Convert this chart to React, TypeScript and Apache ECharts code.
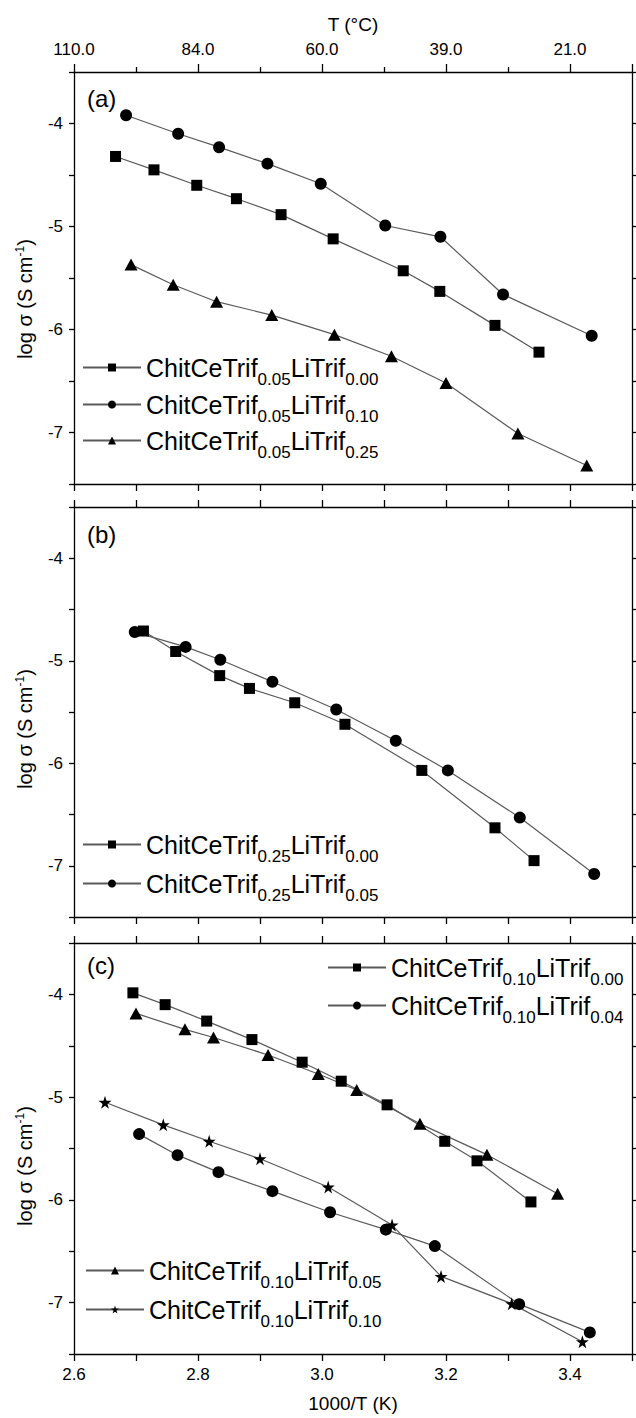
import { useEffect, useRef } from "react";
import * as echarts from "echarts";

// ---- tick labels ----
const T_TICK_LABELS = ["110.0", "84.0", "60.0", "39.0", "21.0"];
const X_TICK_LABELS = ["2.6", "2.8", "3.0", "3.2", "3.4"];
const Y_TICK_LABELS = ["-7", "-6", "-5", "-4"];

// ---- panel (a): ChitCeTrif0.05 with LiTrif ----
const A_NAMES = ["ChitCeTrif0.05LiTrif0.00", "ChitCeTrif0.05LiTrif0.10", "ChitCeTrif0.05LiTrif0.25"];
const A_SQ_X = [2.667, 2.729, 2.798, 2.862, 2.934, 3.018, 3.131, 3.19, 3.279, 3.35];
const A_SQ_Y = [-4.32, -4.45, -4.6, -4.73, -4.885, -5.12, -5.43, -5.63, -5.96, -6.22];
const A_CI_X = [2.684, 2.768, 2.834, 2.912, 2.998, 3.102, 3.191, 3.292, 3.435];
const A_CI_Y = [-3.92, -4.1, -4.23, -4.39, -4.585, -4.99, -5.1, -5.66, -6.06];
const A_TR_X = [2.692, 2.76, 2.83, 2.919, 3.02, 3.112, 3.2, 3.316, 3.427];
const A_TR_Y = [-5.37, -5.565, -5.73, -5.86, -6.05, -6.26, -6.52, -7.01, -7.32];

// ---- panel (b): ChitCeTrif0.25 with LiTrif ----
const B_NAMES = ["ChitCeTrif0.25LiTrif0.00", "ChitCeTrif0.25LiTrif0.05"];
const B_SQ_X = [2.712, 2.764, 2.835, 2.883, 2.956, 3.037, 3.161, 3.279, 3.342];
const B_SQ_Y = [-4.71, -4.91, -5.145, -5.27, -5.41, -5.62, -6.07, -6.63, -6.95];
const B_CI_X = [2.698, 2.78, 2.836, 2.92, 3.023, 3.119, 3.203, 3.319, 3.439];
const B_CI_Y = [-4.72, -4.865, -4.99, -5.205, -5.475, -5.78, -6.07, -6.53, -7.08];

// ---- panel (c): ChitCeTrif0.10 with LiTrif ----
const C_NAMES = [
  "ChitCeTrif0.10LiTrif0.00",
  "ChitCeTrif0.10LiTrif0.04",
  "ChitCeTrif0.10LiTrif0.05",
  "ChitCeTrif0.10LiTrif0.10",
];
const C_SQ_X = [2.695, 2.747, 2.814, 2.887, 2.968, 3.031, 3.105, 3.198, 3.25, 3.337];
const C_SQ_Y = [-3.985, -4.1, -4.26, -4.44, -4.66, -4.845, -5.075, -5.43, -5.62, -6.02];
const C_CI_X = [2.705, 2.767, 2.833, 2.92, 3.013, 3.103, 3.182, 3.318, 3.432];
const C_CI_Y = [-5.36, -5.565, -5.73, -5.915, -6.12, -6.29, -6.45, -7.015, -7.29];
const C_TR_X = [2.7, 2.779, 2.825, 2.913, 2.994, 3.056, 3.158, 3.266, 3.38];
const C_TR_Y = [-4.185, -4.34, -4.42, -4.59, -4.775, -4.93, -5.26, -5.56, -5.94];
const C_ST_X = [2.65, 2.744, 2.818, 2.9, 3.01, 3.113, 3.192, 3.306, 3.42];
const C_ST_Y = [-5.05, -5.27, -5.43, -5.6, -5.875, -6.245, -6.745, -7.01, -7.38];

const FONT = "'Liberation Sans', Arial, Helvetica, sans-serif";
const INK = "#000";
const LINE = "#5a5a5a";
const STAR = "path://M50,0 L61,35 L98,35 L68,57 L79,91 L50,70 L21,91 L32,57 L2,35 L39,35 Z";

const zip = (xs: number[], ys: number[]) => xs.map((x, i) => [x, ys[i]]);

const xLabel = (v: number) => {
  const n = Math.round(v * 10);
  if (Math.abs(v * 10 - n) > 1e-6 || n % 2 !== 0) return "";
  return X_TICK_LABELS[(n - 26) / 2] ?? "";
};
const tLabel = (v: number) => {
  const n = Math.round(v * 10);
  if (Math.abs(v * 10 - n) > 1e-6 || n % 2 !== 0) return "";
  return T_TICK_LABELS[(n - 26) / 2] ?? "";
};
const yLabel = (v: number) => {
  const n = Math.round(v * 2);
  if (Math.abs(v * 2 - n) > 1e-6 || n % 2 !== 0) return "";
  return Y_TICK_LABELS[n / 2 + 7] ?? "";
};

const legendText = (name: string) =>
  name.replace(/^ChitCeTrif([\d.]+)LiTrif([\d.]+)$/, "{m|ChitCeTrif}{s|$1}{m|LiTrif}{s|$2}");

const LEGEND_RICH = {
  m: { fontSize: 25, lineHeight: 40, fontFamily: FONT, color: INK, verticalAlign: "middle" },
  s: { fontSize: 17, lineHeight: 15, fontFamily: FONT, color: INK, verticalAlign: "bottom" },
};

const axisLine = { show: true, onZero: false, lineStyle: { color: INK, width: 1.3 } };
const tickStyle = { color: INK, width: 1.3 };

const GRIDS = [
  { left: 74, width: 558, top: 72, height: 412 },
  { left: 74, width: 558, top: 507, height: 410 },
  { left: 74, width: 558, top: 943, height: 411 },
];

function xAxis(gridIndex: number, position: "top" | "bottom", extra: Record<string, unknown> = {}) {
  return {
    type: "value",
    gridIndex,
    position,
    min: 2.6,
    max: 3.5,
    interval: 0.1,
    axisLine,
    axisTick: { show: true, inside: false, length: 7, lineStyle: tickStyle },
    axisLabel: { show: false },
    splitLine: { show: false },
    ...extra,
  };
}

function yAxis(gridIndex: number, position: "left" | "right", showLabels: boolean) {
  return {
    type: "value",
    gridIndex,
    position,
    min: -7.5,
    max: -3.5,
    interval: 0.5,
    axisLine,
    axisTick: { show: true, inside: false, length: 5, lineStyle: tickStyle },
    axisLabel: showLabels
      ? { show: true, formatter: yLabel, fontSize: 17, margin: 11, color: INK, fontFamily: FONT }
      : { show: false },
    splitLine: { show: false },
  };
}

function lineSeries(
  name: string,
  panel: number,
  xs: number[],
  ys: number[],
  symbol: string,
  symbolSize: number | number[]
) {
  return {
    type: "line",
    name,
    xAxisIndex: panel * 2,
    yAxisIndex: panel * 2,
    data: zip(xs, ys),
    symbol,
    symbolSize,
    showSymbol: true,
    lineStyle: { color: LINE, width: 1.2 },
    itemStyle: { color: INK },
    emphasis: { disabled: true },
    z: 3,
  };
}

function legendRow(name: string, left: number, rowY: number) {
  return {
    data: [name],
    left,
    top: rowY - 20,
    orient: "vertical",
    padding: 0,
    itemWidth: 58,
    itemHeight: 10,
    selectedMode: false,
    formatter: legendText,
    textStyle: { rich: LEGEND_RICH },
  };
}

function yTitle(y: number) {
  return {
    type: "text",
    x: 25,
    y,
    rotation: Math.PI / 2,
    style: {
      text: "{a|log σ (S cm}{b|-1}{a|)}",
      align: "center",
      verticalAlign: "middle",
      rich: {
        a: { fontSize: 20, lineHeight: 22, fontFamily: FONT, color: INK, verticalAlign: "middle" },
        b: { fontSize: 12, lineHeight: 12, fontFamily: FONT, color: INK, verticalAlign: "top" },
      },
    },
  };
}

function panelTag(text: string, y: number) {
  return {
    type: "text",
    x: 87,
    y,
    style: { text, fontSize: 24, fontFamily: FONT, fill: INK, align: "left", verticalAlign: "middle" },
  };
}

export default function App() {
  const ref = useRef<HTMLDivElement>(null);

  useEffect(() => {
    if (!ref.current) return;
    const chart = echarts.init(ref.current, null, { renderer: "svg" });

    const option = {
      animation: false,
      backgroundColor: "#fff",
      textStyle: { fontFamily: FONT, color: INK },
      grid: GRIDS,
      xAxis: [
        xAxis(0, "bottom"),
        xAxis(0, "top", {
          interval: 0.2,
          axisTick: { show: true, inside: false, length: 8, lineStyle: tickStyle },
          minorTick: { show: true, splitNumber: 2, length: 5, lineStyle: tickStyle },
          axisLabel: { show: true, formatter: tLabel, fontSize: 17, margin: 14, color: INK, fontFamily: FONT },
          name: "T (°C)",
          nameLocation: "middle",
          nameGap: 38,
          nameTextStyle: { fontSize: 19, color: INK, fontFamily: FONT },
        }),
        xAxis(1, "bottom"),
        xAxis(1, "top"),
        xAxis(2, "bottom", {
          axisLabel: { show: true, formatter: xLabel, fontSize: 17, margin: 12, color: INK, fontFamily: FONT },
          name: "1000/T (K)",
          nameLocation: "middle",
          nameGap: 40,
          nameTextStyle: { fontSize: 19, color: INK, fontFamily: FONT },
        }),
        xAxis(2, "top"),
      ],
      yAxis: [
        yAxis(0, "left", true),
        yAxis(0, "right", false),
        yAxis(1, "left", true),
        yAxis(1, "right", false),
        yAxis(2, "left", true),
        yAxis(2, "right", false),
      ],
      legend: [
        legendRow(A_NAMES[0], 82, 375),
        legendRow(A_NAMES[1], 82, 412),
        legendRow(A_NAMES[2], 82, 448),
        legendRow(B_NAMES[0], 82, 852),
        legendRow(B_NAMES[1], 82, 891),
        legendRow(C_NAMES[0], 327, 975),
        legendRow(C_NAMES[1], 327, 1013),
        legendRow(C_NAMES[2], 85, 1278),
        legendRow(C_NAMES[3], 85, 1317),
      ],
      series: [
        lineSeries(A_NAMES[0], 0, A_SQ_X, A_SQ_Y, "rect", 11),
        lineSeries(A_NAMES[1], 0, A_CI_X, A_CI_Y, "circle", 12),
        lineSeries(A_NAMES[2], 0, A_TR_X, A_TR_Y, "triangle", [13, 12]),
        lineSeries(B_NAMES[0], 1, B_SQ_X, B_SQ_Y, "rect", 11),
        lineSeries(B_NAMES[1], 1, B_CI_X, B_CI_Y, "circle", 12),
        lineSeries(C_NAMES[0], 2, C_SQ_X, C_SQ_Y, "rect", 11),
        lineSeries(C_NAMES[1], 2, C_CI_X, C_CI_Y, "circle", 12),
        lineSeries(C_NAMES[2], 2, C_TR_X, C_TR_Y, "triangle", [13, 12]),
        lineSeries(C_NAMES[3], 2, C_ST_X, C_ST_Y, STAR, 13),
      ],
      graphic: [
        panelTag("(a)", 98),
        panelTag("(b)", 534),
        panelTag("(c)", 965),
        yTitle(299),
        yTitle(729),
        yTitle(1166),
      ],
    };

    chart.setOption(option as any);
    return () => chart.dispose();
  }, []);

  return (
    <div
      ref={ref}
      style={{ position: "absolute", left: 0, top: 0, width: 636, height: 1418, background: "#fff" }}
    />
  );
}
